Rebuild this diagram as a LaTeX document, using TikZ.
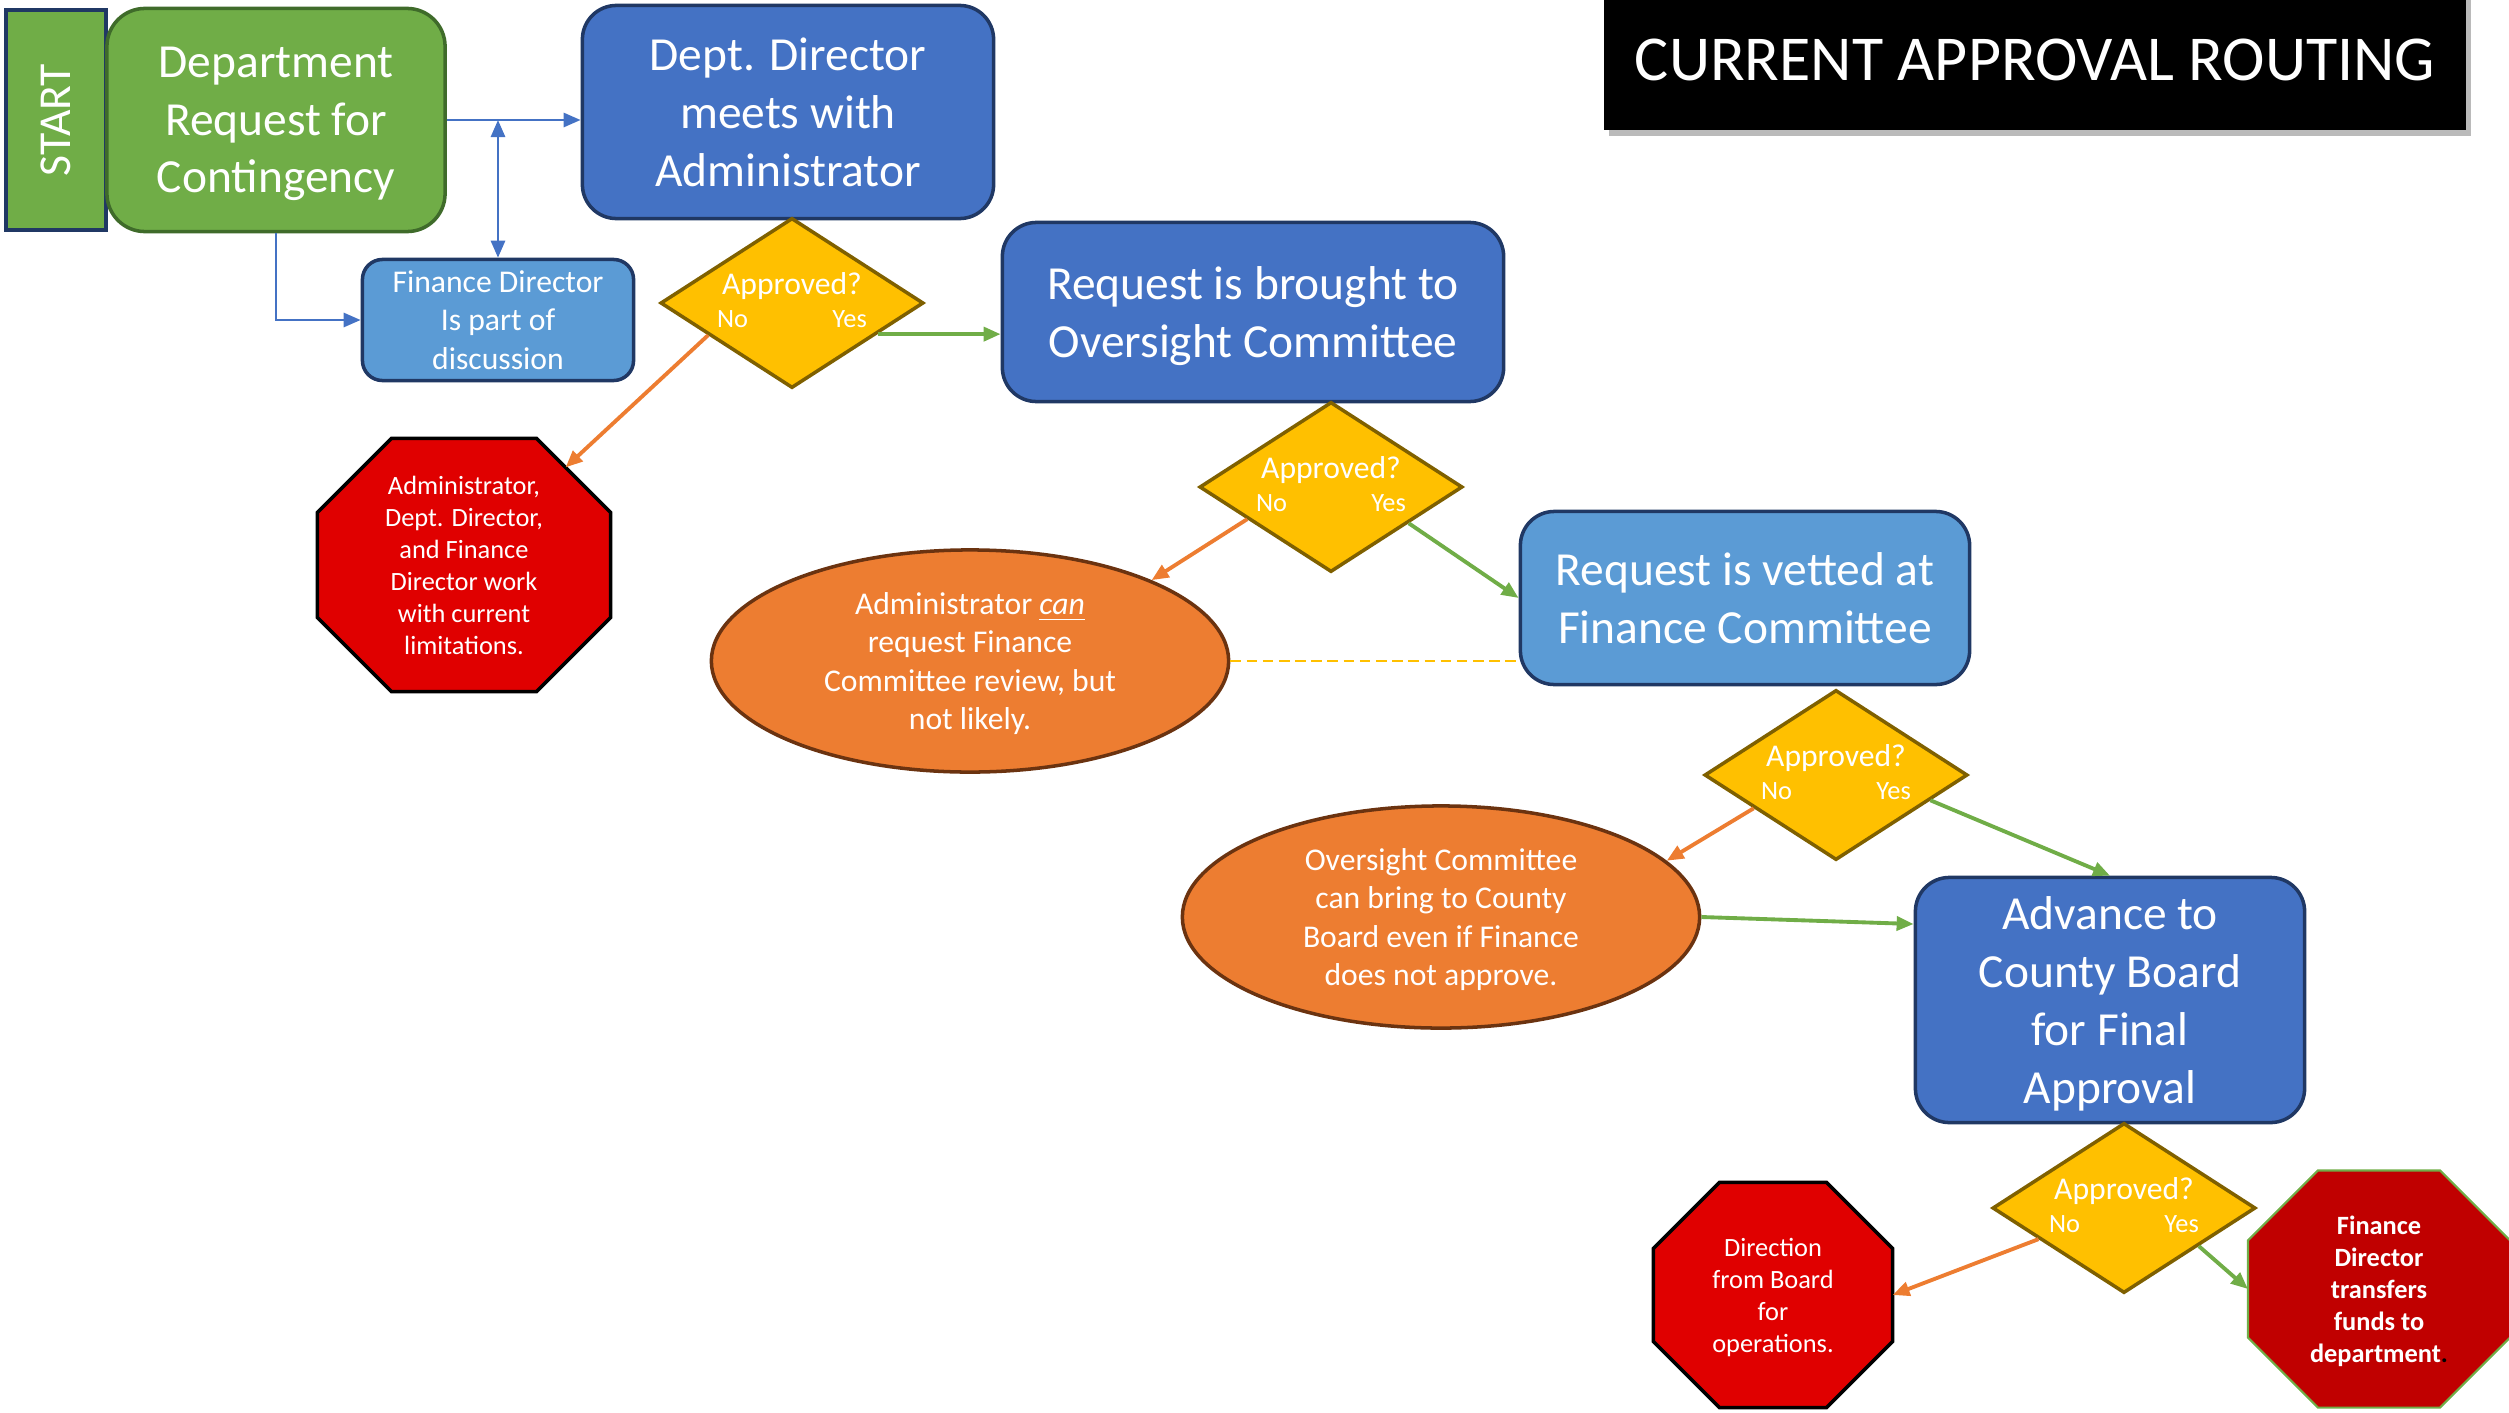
\documentclass[tikz,border=0pt]{standalone}
\usepackage{fontspec}
\setmainfont{Carlito}
\usetikzlibrary{shapes.geometric,arrows.meta,shadows}

\pgfdeclarelayer{background}
\pgfsetlayers{background,main}

\definecolor{boxgreen}{HTML}{70AD47}
\definecolor{boxgreenline}{HTML}{3F6B2A}
\definecolor{boxblue}{HTML}{4472C4}
\definecolor{boxlightblue}{HTML}{5B9BD5}
\definecolor{boxnavy}{HTML}{203864}
\definecolor{decisionyellow}{HTML}{FFC000}
\definecolor{decisionline}{HTML}{7F6000}
\definecolor{noteorange}{HTML}{ED7D31}
\definecolor{notebrown}{HTML}{6B3310}
\definecolor{stopred}{HTML}{E00000}
\definecolor{stopdarkred}{HTML}{C00000}

\newcommand{\bigtext}{\fontsize{13.5}{16.4}\selectfont}
\newcommand{\midtext}{\fontsize{9}{10.9}\selectfont}
\newcommand{\smalltext}{\fontsize{7.5}{9.1}\selectfont}

% octagon drawn round a stop node: node name, chamfer
\newcommand{\stopoutline}[3][]{%
  \filldraw[stopfill,#1] ([xshift=#3]#2.north west) -- ([xshift=-#3]#2.north east)
    -- ([yshift=-#3]#2.north east) -- ([yshift=#3]#2.south east)
    -- ([xshift=-#3]#2.south east) -- ([xshift=#3]#2.south west)
    -- ([yshift=#3]#2.south west) -- ([yshift=-#3]#2.north west) -- cycle;}

\tikzset{
  startbox/.style={rectangle, fill=boxgreen, draw=boxnavy, line width=0.9pt, text=white, minimum width=1cm, minimum height=2.2cm, inner sep=0pt, font=\fontsize{13}{15}\selectfont},
  greenbox/.style={rectangle, rounded corners=0.38cm, fill=boxgreen, draw=boxgreenline, line width=1pt, text=white, align=center, font=\bigtext, inner sep=0pt, text depth=0pt},
  bluebox/.style={rectangle, rounded corners=0.34cm, fill=boxblue, draw=boxnavy, line width=1pt, text=white, align=center, font=\bigtext, inner sep=0pt, text depth=0pt},
  lightbox/.style={bluebox, fill=boxlightblue},
  decision/.style={diamond, shape aspect=1.55, fill=decisionyellow, draw=decisionline, line width=1pt, text=white, align=center, font=\midtext, minimum width=2.63cm, minimum height=1.70cm, inner sep=0pt, text depth=1.8pt},
  note/.style={ellipse, fill=noteorange, draw=notebrown, line width=1pt, text=white, align=center, font=\midtext, minimum width=5.17cm, minimum height=2.22cm, inner sep=0pt, text depth=0pt},
  stopsign/.style={rectangle, text=white, align=center, font=\smalltext, inner sep=0pt, outer sep=0pt, text depth=0pt},
  stopfill/.style={fill=stopred, draw=black, line width=1pt},
  titlebox/.style={rectangle, fill=black, text=white, font=\fontsize{18.2}{21}\selectfont, minimum width=8.62cm, minimum height=1.39cm, drop shadow={shadow xshift=0.05cm, shadow yshift=-0.06cm, fill=black!45, opacity=0.6}},
  flowblue/.style={draw=boxblue, line width=0.8pt, -{Triangle[length=0.17cm,width=0.14cm]}},
  flowboth/.style={flowblue, {Triangle[length=0.17cm,width=0.14cm]}-{Triangle[length=0.17cm,width=0.14cm]}},
  flowyes/.style={draw=boxgreen, line width=1.1pt, -{Triangle[length=0.17cm,width=0.14cm]}},
  flowno/.style={draw=noteorange, line width=1.1pt, -{Triangle[length=0.17cm,width=0.14cm]}},
  maybe/.style={draw=decisionyellow, line width=0.7pt, dash pattern=on 3pt off 1.6pt},
}

\begin{document}
\begin{tikzpicture}[x=0.01cm, y=-0.01cm]
\useasboundingbox (0,0) rectangle (2509,1412);

\node[titlebox] (title) at (2035,60) {CURRENT APPROVAL ROUTING};

\node[startbox] (start) at (56,120) {\rotatebox{90}{START}};
\node[greenbox, minimum width=3.38cm, minimum height=2.23cm] (deptreq) at (276,120) {Department\\Request for\\Contingency};
\node[bluebox, minimum width=4.11cm, minimum height=2.13cm] (deptdir) at (788,112) {Dept. Director\\meets with\\Administrator};
\node[lightbox, font=\midtext, rounded corners=0.2cm, minimum width=2.71cm, minimum height=1.21cm] (findir) at (498,320) {Finance Director\\Is part of\\discussion};
\node[decision] (okA) at (792,303) {Approved?\\[-1.5pt]{\smalltext No\hspace{24pt}Yes}};
\node[stopsign, minimum width=2.93cm, minimum height=2.53cm] (stopA) at (464,565) {Administrator,\\Dept. Director,\\and Finance\\Director work\\with current\\limitations.};

\node[bluebox, minimum width=5.01cm, minimum height=1.79cm] (oversight) at (1253,312) {Request is brought to\\Oversight Committee};
\node[decision] (okB) at (1331,487) {Approved?\\[-1.5pt]{\smalltext No\hspace{24pt}Yes}};
\node[note] (adminnote) at (970,661) {Administrator \underline{\textit{can}}\\request Finance\\Committee review, but\\not likely.};

\node[lightbox, minimum width=4.49cm, minimum height=1.73cm] (vetted) at (1745,598) {Request is vetted at\\Finance Committee};
\node[decision] (okC) at (1836,775) {Approved?\\[-1.5pt]{\smalltext No\hspace{24pt}Yes}};
\node[note] (oversightnote) at (1441,917) {Oversight Committee\\can bring to County\\Board even if Finance\\does not approve.};

\node[bluebox, minimum width=3.89cm, minimum height=2.45cm] (advance) at (2110,1000) {Advance to\\County Board\\for Final\\Approval};
\node[decision] (okD) at (2124,1208) {Approved?\\[-1.5pt]{\smalltext No\hspace{24pt}Yes}};
\node[stopsign, minimum width=2.39cm, minimum height=2.25cm] (stopB) at (1773,1295) {Direction\\from Board\\for\\operations.};
\node[stopsign, font=\smalltext\bfseries, minimum width=2.62cm, minimum height=2.37cm] (stopC) at (2379,1289) {Finance\\Director\\transfers\\funds to\\department{\color{black}.}};

\begin{pgfonlayer}{background}
\stopoutline{stopA}{0.74cm}
\stopoutline{stopB}{0.66cm}
\stopoutline[fill=stopdarkred, draw=boxgreen, line width=0.6pt]{stopC}{0.70cm}
\end{pgfonlayer}

\draw[flowblue] (deptreq.east) -- (deptreq.east -| deptdir.west);
\draw[flowboth] (findir.north) -- (findir.north |- deptreq.east);
\draw[flowblue] (deptreq.south) |- (findir.west);

\draw[flowyes] (okA.-20) -- (okA.-20 -| oversight.west);
\draw[flowno] (okA.201) -- ([xshift=-0.45cm, yshift=-0.29cm]stopA.north east);
\draw[flowyes] (okB.-25) -- (vetted.west);
\draw[flowno] (okB.201) -- (adminnote.24);
\draw[maybe] (adminnote.east) -- (adminnote.east -| vetted.west);
\draw[flowyes] (okC.-15) -- (advance.north);
\draw[flowno] (okC.202) -- (oversightnote.14);
\draw[flowyes] (oversightnote.east) -- ([yshift=-0.07cm]oversightnote.east -| advance.west);
\draw[flowyes] (okD.-27) -- (stopC.west);
\draw[flowno] (okD.200) -- (stopB.east);
\end{tikzpicture}
\end{document}
